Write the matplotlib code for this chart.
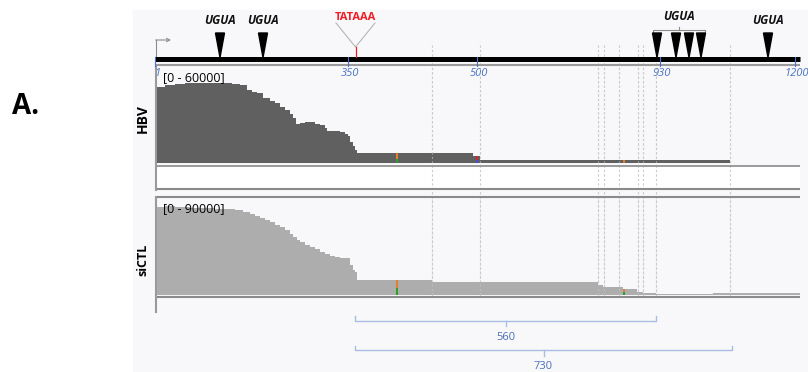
import numpy as np
import matplotlib
matplotlib.use("Agg")
import matplotlib.pyplot as plt
from matplotlib.patches import Rectangle, Polygon

plt.rcParams["font.family"] = ["Open Sans", "DejaVu Sans"]

W, H = 808, 372

# coverage profiles, x = column along the track, values in reads
hbv_x = [157, 165, 175, 185, 200, 215, 225, 232, 240, 247, 252, 257, 263, 270, 275,
         280, 285, 290, 293, 296, 300, 305, 310, 315, 320, 325, 327, 333, 340, 345,
         348, 350, 353, 355, 357, 473, 480, 730]
hbv_cov = [48000, 49300, 49900, 50500, 50500, 50800, 50500, 49900, 49300, 46100, 44800,
           44200, 41000, 39200, 37900, 35400, 33500, 30900, 28400, 24600, 25300, 25900,
           25900, 24600, 24000, 22100, 20200, 19900, 19600, 18300, 17100, 13300, 10700,
           8200, 6100, 4500, 1900, 0]

sictl_x = [157, 165, 175, 190, 205, 215, 225, 235, 243, 250, 255, 260, 265, 270, 275,
           280, 285, 290, 293, 297, 300, 305, 310, 315, 320, 325, 330, 335, 340, 345,
           350, 353, 355, 357, 432, 598, 603, 623, 637, 643, 656, 713, 800]
sictl_cov = [82500, 83400, 82500, 81600, 81600, 80600, 80600, 79700, 77800, 75900, 74100,
             72200, 70300, 68400, 65600, 63800, 60900, 57200, 54400, 51600, 49700, 46900,
             45000, 43100, 40300, 38400, 36600, 35600, 34700, 34700, 28100, 23400, 21600,
             14100, 12200, 9400, 7500, 5600, 2800, 1600, 500, 1600, 1600]

# mismatch marks: column and (lower, upper) colours
hbv_mm_x = [397, 477, 624]
hbv_mm_col = [("#2ca02c", "#e0802c"), ("#3b4fd8", "#d62728"), ("#e0802c", "#e0802c")]
sictl_mm_x = [397, 624]
sictl_mm_col = [("#2ca02c", "#e0802c"), ("#2ca02c", "#e0802c")]

# schematic
ugua_x = [220, 263, 657, 676, 689, 701, 768]
ugua_labels = [(220, "UGUA"), (263, "UGUA"), (679, "UGUA"), (768, "UGUA")]
tataaa_x = 355.5
tick_x = [155, 348, 477, 660, 795]
tick_labels = ["1", "350", "500", "930", "1200"]
dash_x = [432, 480, 598, 604, 619, 638, 643, 656, 730]
spans = [(355, 656, "560"), (355, 732, "730")]

fig = plt.figure(figsize=(W / 100, H / 100), dpi=100)
fig.patch.set_facecolor("white")
ax = fig.add_axes([0, 0, 1, 1])
ax.set_xlim(0, W)
ax.set_ylim(H, 0)
ax.axis("off")

ax.add_patch(Rectangle((133, 10), W - 133, H - 10, color="#f8f8fa", zorder=0))

# genome bar
ax.plot([155, 800], [59.2, 59.2], color="black", lw=3.6, solid_capstyle="butt", zorder=3)
ax.plot([155, 800], [64.8, 64.8], color="#9a9a9a", lw=1.5, solid_capstyle="butt", zorder=3)
for x, lab in zip(tick_x, tick_labels):
    ax.plot([x, x], [57, 66], color="#4a72c4", lw=0.8, zorder=4)
    ax.text(x + 2, 74, lab, color="#4a72c4", fontsize=8, style="italic",
            ha="center", va="center", zorder=5)

# transcription start arrow
ax.plot([156, 156], [57, 40], color="#8c8c8c", lw=0.8, zorder=2)
ax.annotate("", xy=(171, 40), xytext=(155.6, 40),
            arrowprops=dict(arrowstyle="->", color="#8c8c8c", lw=0.8,
                            shrinkA=0, shrinkB=0, mutation_scale=6))

# UGUA motifs
for x in ugua_x:
    ax.add_patch(Polygon([[x - 4.5, 33], [x + 4.5, 33], [x, 57.5]],
                         closed=True, color="black", zorder=4))
for x, lab in ugua_labels:
    y = 17 if x == 679 else 21
    ax.text(x, y, lab, fontsize=8.5, fontweight="bold", style="italic",
            ha="center", va="center", color="#111111")
ax.plot([653, 653, 705, 705], [32, 29.5, 29.5, 32], color="#8c8c8c", lw=0.8)
ax.plot([679, 679], [29.5, 27], color="#8c8c8c", lw=0.8)

# TATAAA box
ax.text(tataaa_x, 18, "TATAAA", color="#ee1c24", fontsize=8, fontweight="bold",
        ha="center", va="center")
ax.plot([336, tataaa_x, 375], [23, 47, 23], color="#b5b5b5", lw=0.8)
ax.plot([tataaa_x, tataaa_x], [47, 57], color="#ee1c24", lw=0.9, zorder=4)

# track frames
ax.add_patch(Rectangle((156, 165.5), 644, 23.5, facecolor="white", edgecolor="none", zorder=1))
for y in [165.5, 189.2, 197.3, 296.8]:
    ax.plot([156, 800], [y, y], color="#8a8a8a", lw=1.5 if y != 165.5 else 1.2,
            solid_capstyle="butt", zorder=3)
ax.plot([156, 156], [67, 190], color="#9a9a9a", lw=1.5, zorder=3)
ax.plot([156, 156], [196.5, 312], color="#9a9a9a", lw=1.5, zorder=3)

ax.text(143, 119, "HBV", rotation=90, fontsize=10, fontweight="bold",
        ha="center", va="center")
ax.text(143, 260, "siCTL", rotation=90, fontsize=9, fontweight="bold",
        ha="center", va="center")
ax.text(12, 107, "A.", fontsize=20, fontweight="bold", ha="left", va="center")

# bottom span brackets
for i, (x0, x1, lab) in enumerate(spans):
    y = 320.7 + i * 29.3
    mid = (x0 + x1) / 2
    ax.plot([x0, x0, x1, x1], [y - 4.5, y, y, y - 4.5], color="#a9bde3", lw=1)
    ax.plot([mid, mid], [y, y + 5.5], color="#a9bde3", lw=1)
    ax.text(mid, y + 16.5, lab, color="#4a6fb5", fontsize=8, ha="center", va="center")


# coverage tracks
def track(bottom_px, height_px, ymax, xs, cov, color, mm_x, mm_col, label):
    a = fig.add_axes([0, (H - bottom_px) / H, 1, height_px / H])
    a.set_xlim(0, W)
    a.set_ylim(0, ymax)
    a.axis("off")
    a.patch.set_alpha(0)
    a.fill_between(xs, cov, 0, step="post", color=color, lw=0, zorder=2)
    for x, (c_lo, c_hi) in zip(mm_x, mm_col):
        c = cov[np.searchsorted(xs, x, side="right") - 1]
        a.bar(x, c * 0.45, bottom=0, width=1.6, color=c_lo, zorder=3)
        a.bar(x, c * 0.55, bottom=c * 0.45, width=1.6, color=c_hi, zorder=3)
    # guide lines show faintly over the coverage
    for x in dash_x:
        a.plot([x, x], [0, ymax], color="#c9c9c9", lw=0.8, ls=(0, (2, 2)),
               alpha=0.6, zorder=2.5)
    a.text(163, ymax * 0.9, label, fontsize=9, ha="left", va="center", zorder=6)
    return a


# dashed guide lines over the schematic and gaps
for x in dash_x:
    ax.plot([x, x], [45, 297], color="#c9c9c9", lw=0.8, ls=(0, (2, 2)), zorder=1)

track(163, 95, 60000, hbv_x, hbv_cov, "#606060", hbv_mm_x, hbv_mm_col, "[0 - 60000]")
track(295, 96, 90000, sictl_x, sictl_cov, "#adadad", sictl_mm_x, sictl_mm_col, "[0 - 90000]")

fig.savefig("out.png", dpi=100)
